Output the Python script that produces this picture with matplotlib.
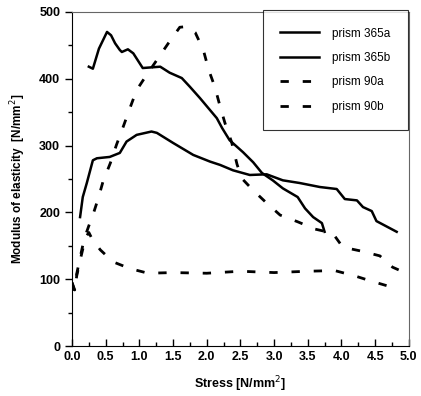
import matplotlib.pyplot as plt
from matplotlib.ticker import MultipleLocator

plt.rcParams['font.family'] = ['Liberation Sans', 'DejaVu Sans']

# prism 365a (upper solid)
x_365a = [0.25, 0.31, 0.40, 0.52, 0.58, 0.64, 0.71, 0.74, 0.83, 0.91, 1.05, 1.31, 1.45,
          1.63, 1.75, 1.90, 2.05, 2.15, 2.23, 2.34, 2.54, 2.69, 2.82, 2.98, 3.13, 3.35,
          3.46, 3.58, 3.71, 3.75]
y_365a = [418, 415, 445, 470, 465, 453, 443, 440, 444, 438, 416, 418, 409,
          401, 388, 371, 353, 341, 326, 308, 290, 275, 259, 248, 236, 223,
          206, 193, 184, 171]

# prism 365b (lower solid)
x_365b = [0.12, 0.16, 0.22, 0.31, 0.37, 0.56, 0.71, 0.81, 0.96, 1.18, 1.26, 1.50, 1.80,
          2.05, 2.20, 2.39, 2.64, 2.89, 3.13, 3.38, 3.68, 3.93, 4.05, 4.23, 4.32,
          4.45, 4.52, 4.67, 4.82]
y_365b = [193, 223, 244, 278, 281, 283, 289, 306, 316, 321, 319, 304, 286,
          276, 271, 263, 256, 257, 248, 244, 238, 235, 220, 218, 208,
          202, 187, 179, 171]

# prism 90a (upper dashed)
x_90a = [0.00, 0.04, 0.07, 0.12, 0.18, 0.25, 0.31, 0.39, 0.46, 0.57, 0.66, 0.76, 0.86,
         0.96, 1.11, 1.26, 1.43, 1.60, 1.70, 1.83, 1.95, 2.03, 2.12, 2.20, 2.27, 2.37,
         2.45, 2.52, 2.69, 2.89, 3.09, 3.35, 3.61, 3.87, 4.02, 4.30, 4.57, 4.76, 4.85]
y_90a = [95, 84, 108, 132, 160, 180, 196, 221, 246, 274, 301, 328, 356,
         383, 406, 428, 453, 477, 478, 469, 443, 413, 388, 358, 334, 305,
         272, 251, 233, 214, 196, 186, 175, 169, 148, 142, 135, 118, 114]

# prism 90b (lower dashed)
x_90b = [0.00, 0.04, 0.07, 0.12, 0.16, 0.20, 0.25, 0.30, 0.42, 0.61, 0.86, 1.13, 1.50,
         2.00, 2.50, 3.00, 3.50, 3.90, 4.20, 4.45, 4.72]
y_90b = [95, 82, 105, 128, 145, 162, 170, 160, 144, 126, 116, 109, 110,
         109, 112, 110, 112, 113, 105, 97, 89]

fig = plt.figure(figsize=(4.21, 3.96), dpi=100)
ax = fig.add_axes([0.171, 0.126, 0.800, 0.844])

ax.plot(x_365a, y_365a, color='black', lw=1.8, label='prism 365a')
ax.plot(x_365b, y_365b, color='black', lw=1.8, label='prism 365b')
ax.plot(x_90a, y_90a, color='black', lw=2.0, dashes=(3, 5), label='prism 90a')
ax.plot(x_90b, y_90b, color='black', lw=2.0, dashes=(3, 5), label='prism 90b')

ax.set_xlim(0, 5)
ax.set_ylim(0, 500)
ax.xaxis.set_major_locator(MultipleLocator(0.5))
ax.xaxis.set_minor_locator(MultipleLocator(0.25))
ax.yaxis.set_major_locator(MultipleLocator(100))
ax.yaxis.set_minor_locator(MultipleLocator(50))
ax.set_xticklabels([f'{v:.1f}' for v in ax.get_xticks()])
ax.tick_params(axis='x', which='both', direction='in', top=False)
ax.tick_params(axis='y', which='both', direction='out', right=False)
ax.tick_params(which='major', length=5, width=1, labelsize=9)
ax.tick_params(which='minor', length=3, width=1)
for lab in ax.get_xticklabels() + ax.get_yticklabels():
    lab.set_fontweight('bold')
for s in ['top', 'right']:
    ax.spines[s].set_color('0.4')
    ax.spines[s].set_linewidth(0.8)

ax.set_xlabel('Stress [N/mm$^2$]', fontsize=9, fontweight='bold', labelpad=8)
ax.set_ylabel('Modulus of elasticity  [N/mm$^2$]', fontsize=8.5, fontweight='bold', labelpad=8)

leg = ax.legend(loc='upper right', bbox_to_anchor=(0.998, 1.006), fancybox=False,
                edgecolor='black', fontsize=8.5, handlelength=3.3, labelspacing=1.05,
                borderpad=1.5, handletextpad=1.1, borderaxespad=0)
leg.get_frame().set_linewidth(0.8)

fig.savefig('out.png', dpi=100)
